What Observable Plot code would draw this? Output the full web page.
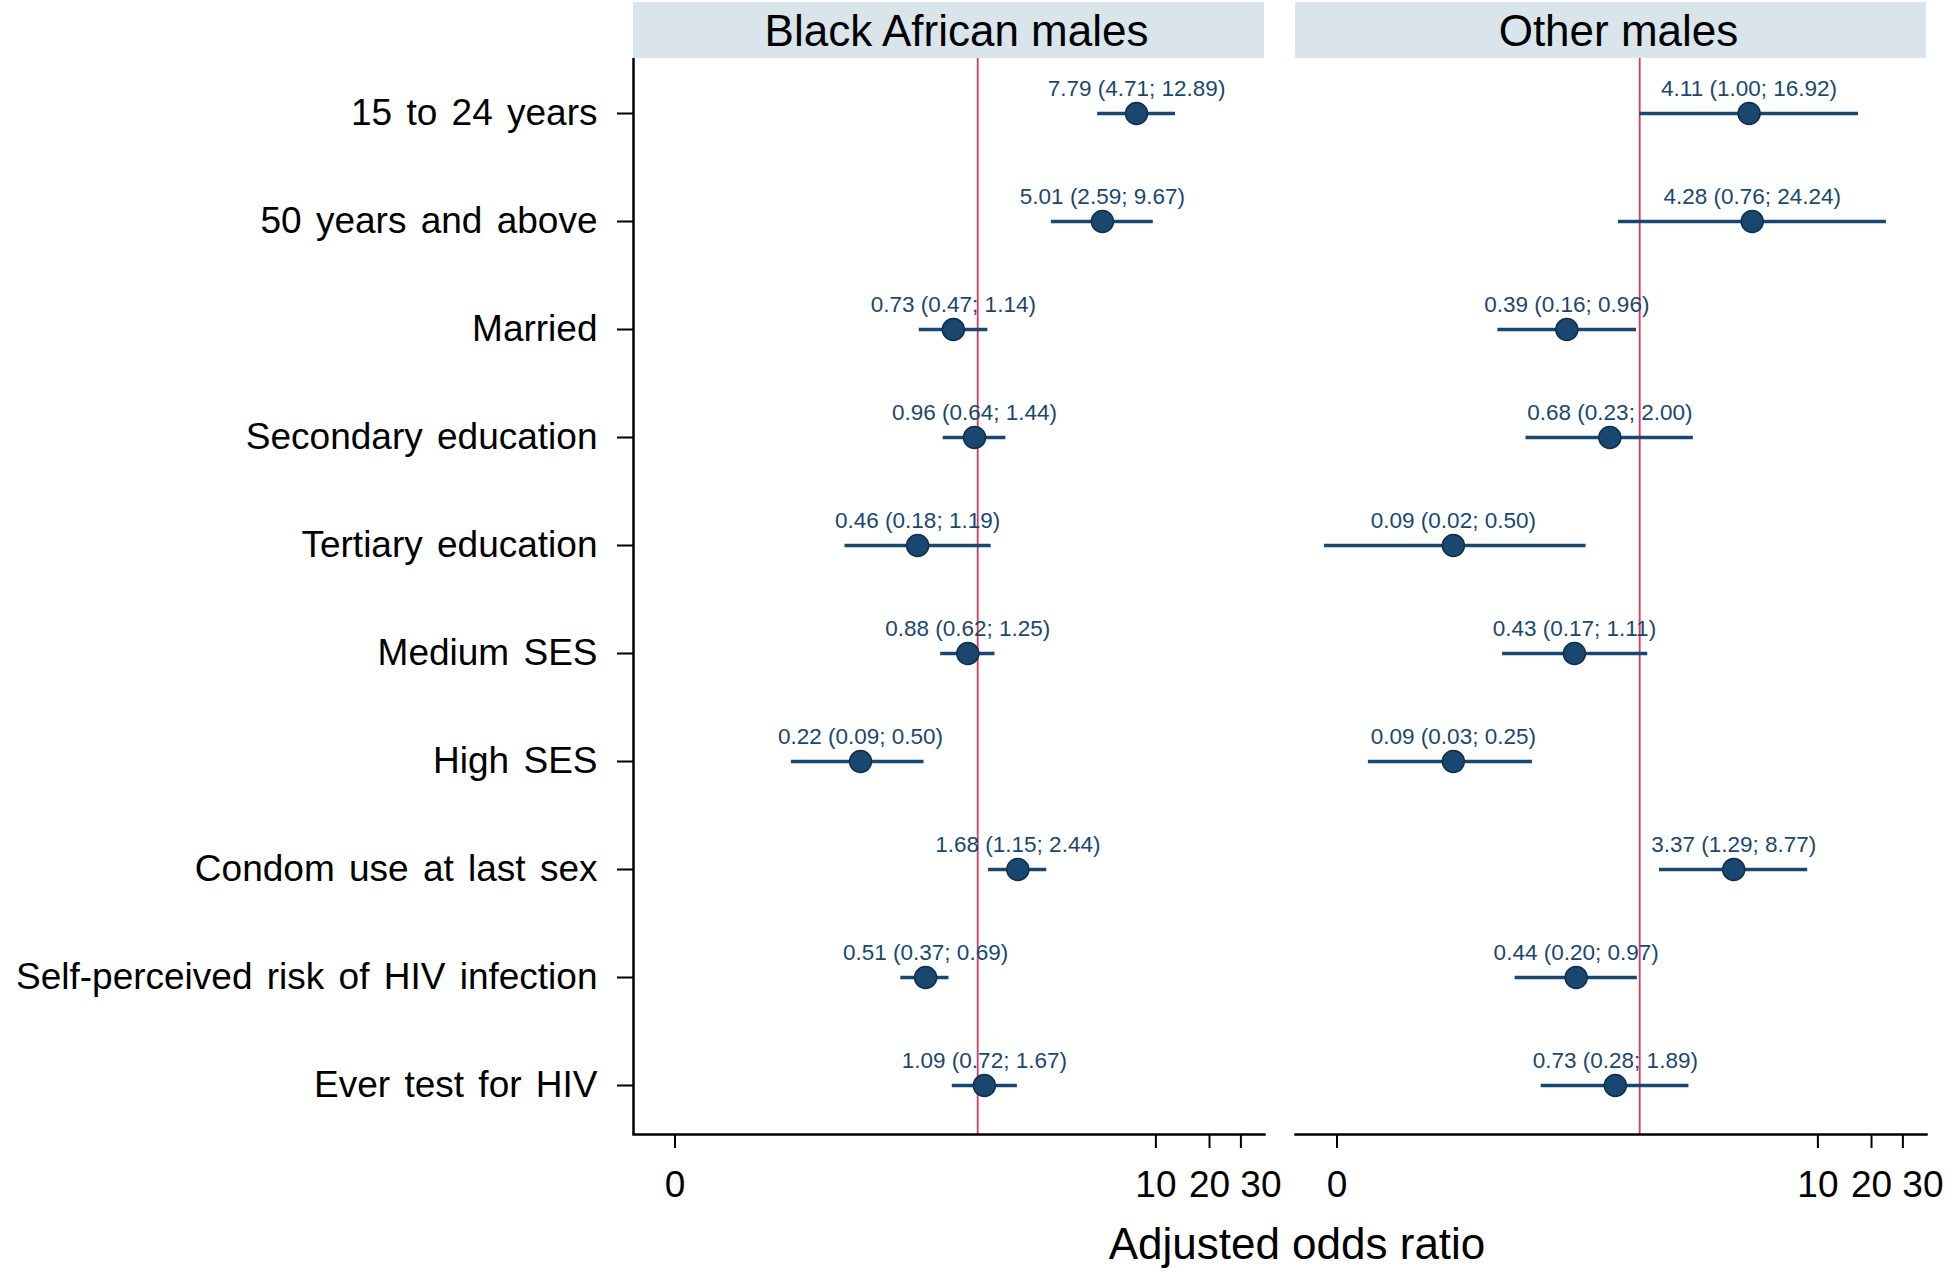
<!DOCTYPE html>
<html><head><meta charset="utf-8">
<script src="https://cdn.jsdelivr.net/npm/d3@7"></script>
<script src="https://cdn.jsdelivr.net/npm/@observablehq/plot@0.6"></script>
<style>
body{margin:0;background:#fff;font-family:"Liberation Sans",Arial,sans-serif;}
#chart svg{display:block;}
#xtitle{width:1946px;position:relative;height:58px;}
#xtitle span{position:absolute;left:1297px;transform:translateX(-50%);top:7px;font-size:44px;line-height:44px;color:#000;white-space:nowrap;}
g[aria-label="y-axis tick label"] text{word-spacing:4px;}
</style></head><body>
<div id="chart"></div>
<div id="xtitle"><span>Adjusted odds ratio</span></div>
<script>
const categories = ["15 to 24 years","50 years and above","Married","Secondary education","Tertiary education","Medium SES","High SES","Condom use at last sex","Self-perceived risk of HIV infection","Ever test for HIV"];
const groups = ["Black African males","Other males"];
const blackOR = [7.79,5.01,0.73,0.96,0.46,0.88,0.22,1.68,0.51,1.09];
const blackLo = [4.71,2.59,0.47,0.64,0.18,0.62,0.09,1.15,0.37,0.72];
const blackHi = [12.89,9.67,1.14,1.44,1.19,1.25,0.50,2.44,0.69,1.67];
const otherOR = [4.11,4.28,0.39,0.68,0.09,0.43,0.09,3.37,0.44,0.73];
const otherLo = [1.00,0.76,0.16,0.23,0.017,0.17,0.03,1.29,0.20,0.28];
const otherHi = [16.92,24.24,0.96,2.00,0.50,1.11,0.25,8.77,0.97,1.89];
const xTicks = [0.02,10,20,30];
const xTickLabels = ["0","10","20","30"];
const xDomain = [0.0117, 40.7];
const refValue = 1;

const rows = [];
categories.forEach((c,i)=>{
  rows.push({g:groups[0],cat:c,or:blackOR[i],lo:blackLo[i],hi:blackHi[i]});
  rows.push({g:groups[1],cat:c,or:otherOR[i],lo:otherLo[i],hi:otherHi[i]});
});
const fmt = v => v.toFixed(2);
rows.forEach(r => r.label = `${fmt(r.or)} (${fmt(r.lo)}; ${fmt(r.hi)})`);

const navy = "#1a476f";
const W = 1946, H = 1215;
const tickLabel = d => xTickLabels[xTicks.indexOf(d)];
const plot = Plot.plot({
  width: W, height: H,
  marginTop: 58, marginBottom: H-1134, marginLeft: 633, marginRight: 19,
  style: {fontFamily: '"Liberation Sans", Arial, sans-serif', color:"#000", background:"#fff"},
  fx: {domain: groups, paddingInner: 0.0468, paddingOuter: 0, axis: null, label: null},
  x: {type: "log", domain: xDomain, label: null},
  y: {type: "point", domain: categories, padding: 0, insetTop: 52, insetBottom: 47, label: null},
  marks: [
    Plot.ruleX([refValue], {stroke: "#e2375c", strokeWidth: 1.8}),
    Plot.ruleX([{g: groups[0], v: xDomain[0]}], {x: "v", fx: "g", stroke: "#000", strokeWidth: 2.5}),
    Plot.frame({anchor: "bottom", stroke: "#000", strokeWidth: 2.5}),
    Plot.ruleY(rows, {fx: "g", y: "cat", x1: "lo", x2: "hi", stroke: navy, strokeWidth: 3.6}),
    Plot.dot(rows, {fx: "g", y: "cat", x: "or", r: 11, fill: navy, stroke: "#0f2f4d", strokeWidth: 1.5}),
    Plot.text(rows, {fx: "g", y: "cat", x: "or", text: "label", dy: -25, fontSize: 22.5, fill: navy}),
    Plot.axisX({ticks: xTicks.slice(0, 3), tickFormat: tickLabel, tickSize: 14, tickPadding: 22, fontSize: 37, strokeWidth: 2, label: null}),
    Plot.axisX({ticks: xTicks.slice(3), tickSize: 14, tickPadding: 22, fontSize: 37, strokeWidth: 2, label: null, tickFormat: () => ""}),
    Plot.axisX({ticks: xTicks.slice(3), tickFormat: tickLabel, tickSize: 0, tickPadding: 36, fontSize: 37, dx: 20, label: null}),
    Plot.axisY({tickSize: 16, tickPadding: 20, fontSize: 37, strokeWidth: 2, label: null})
  ]
});
document.getElementById("chart").appendChild(plot);

// facet strips drawn from the fx scale
const fx = plot.scale("fx");
const svg = d3.select(plot);
const strips = svg.insert("g", ":first-child");
groups.forEach(g => {
  const x0 = fx.apply(g), bw = fx.bandwidth;
  strips.append("rect").attr("x", x0).attr("y", 2).attr("width", bw).attr("height", 56).attr("fill", "#d9e5eb");
  svg.append("text").attr("x", x0 + bw/2 + 8).attr("y", 46).attr("text-anchor", "middle")
    .attr("font-size", 44).attr("fill", "#000").attr("font-family", '"Liberation Sans", Arial, sans-serif').text(g);
});
</script>
</body></html>
